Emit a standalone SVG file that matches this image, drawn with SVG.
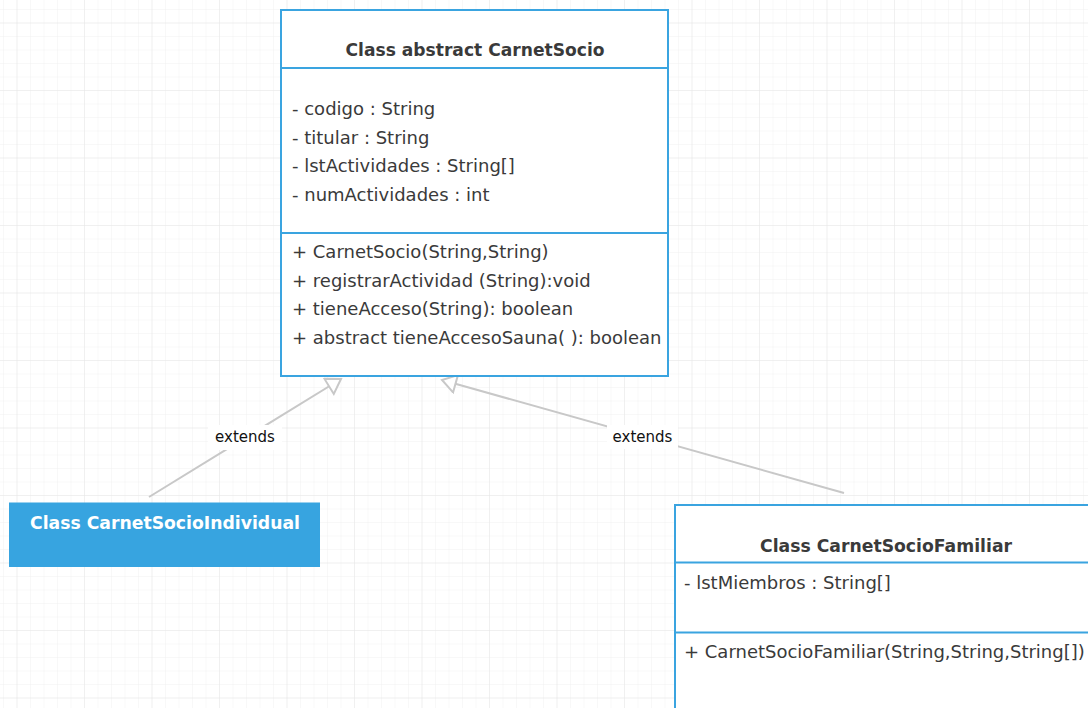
<svg xmlns="http://www.w3.org/2000/svg" width="1088" height="708" viewBox="0 0 1088 708">
<defs>
<pattern id="minor" x="3" y="9" width="13.5" height="13.5" patternUnits="userSpaceOnUse">
<path d="M0 0H13.5M0 0V13.5" fill="none" stroke="#f1f1f1" stroke-width="1"/>
</pattern>
<pattern id="major" x="16.5" y="22.5" width="67.5" height="67.5" patternUnits="userSpaceOnUse">
<path d="M0 0H67.5M0 0V67.5" fill="none" stroke="#e8e8e8" stroke-width="1"/>
</pattern>
<marker id="inherit" markerUnits="userSpaceOnUse" markerWidth="20" markerHeight="22" refX="16" refY="10" orient="auto">
<path d="M2 1 L16 10 L2 19 Z" fill="#ffffff" stroke="#c8c8c8" stroke-width="2" stroke-linejoin="miter"/>
</marker>
<style>
.box{fill:#ffffff;stroke:#3aa4e0;stroke-width:2}
.sep{stroke:#3aa4e0;stroke-width:2}
.title{font-family:"DejaVu Sans",sans-serif;font-weight:bold;font-size:18px;fill:#3a3a3a}
.txt{font-family:"DejaVu Sans",sans-serif;font-size:18px;fill:#3a3a3a}
.lbl{font-family:"DejaVu Sans",sans-serif;font-size:15px;fill:#111111}
.conn{stroke:#c8c8c8;stroke-width:2;fill:none}
</style>
</defs>
<rect width="1088" height="708" fill="#ffffff"/>
<rect width="1088" height="708" fill="url(#minor)"/>
<rect width="1088" height="708" fill="url(#major)"/>

<g id="connectors">
<line class="conn" x1="149" y1="497" x2="341" y2="379" marker-end="url(#inherit)"/>
<line class="conn" x1="844" y1="493" x2="442" y2="380" marker-end="url(#inherit)"/>
<rect x="208" y="425" width="74" height="25" fill="#ffffff"/>
<text class="lbl" x="245" y="442" text-anchor="middle">extends</text>
<rect x="607" y="425" width="71" height="24" fill="#ffffff"/>
<text class="lbl" x="642.5" y="442" text-anchor="middle">extends</text>
</g>

<g id="CarnetSocio">
<rect class="box" x="281" y="10" width="387" height="366"/>
<line class="sep" x1="281" y1="68" x2="668" y2="68"/>
<line class="sep" x1="281" y1="233" x2="668" y2="233"/>
<text class="title" x="475" y="56" text-anchor="middle" textLength="259" lengthAdjust="spacingAndGlyphs">Class abstract CarnetSocio</text>
<text class="txt" x="292" y="115">- codigo : String</text>
<text class="txt" x="292" y="143.5">- titular : String</text>
<text class="txt" x="292" y="172">- lstActividades : String[]</text>
<text class="txt" x="292" y="200.5">- numActividades : int</text>
<text class="txt" x="292" y="258">+ CarnetSocio(String,String)</text>
<text class="txt" x="292" y="286.5">+ registrarActividad (String):void</text>
<text class="txt" x="292" y="315">+ tieneAcceso(String): boolean</text>
<text class="txt" x="292" y="343.5">+ abstract tieneAccesoSauna( ): boolean</text>
</g>

<g id="CarnetSocioIndividual">
<rect x="9" y="502.5" width="311" height="64.5" fill="#37a4e0"/>
<text class="title" x="165" y="528.5" text-anchor="middle" fill="#ffffff" style="fill:#ffffff" textLength="270" lengthAdjust="spacingAndGlyphs">Class CarnetSocioIndividual</text>
</g>

<g id="CarnetSocioFamiliar">
<rect class="box" x="675" y="505" width="424" height="220"/>
<line class="sep" x1="675" y1="562.5" x2="1099" y2="562.5"/>
<line class="sep" x1="675" y1="632.5" x2="1099" y2="632.5"/>
<text class="title" x="886" y="551.5" text-anchor="middle" textLength="252" lengthAdjust="spacingAndGlyphs">Class CarnetSocioFamiliar</text>
<text class="txt" x="684" y="588.5">- lstMiembros : String[]</text>
<text class="txt" x="684" y="658">+ CarnetSocioFamiliar(String,String,String[])</text>
</g>
</svg>
